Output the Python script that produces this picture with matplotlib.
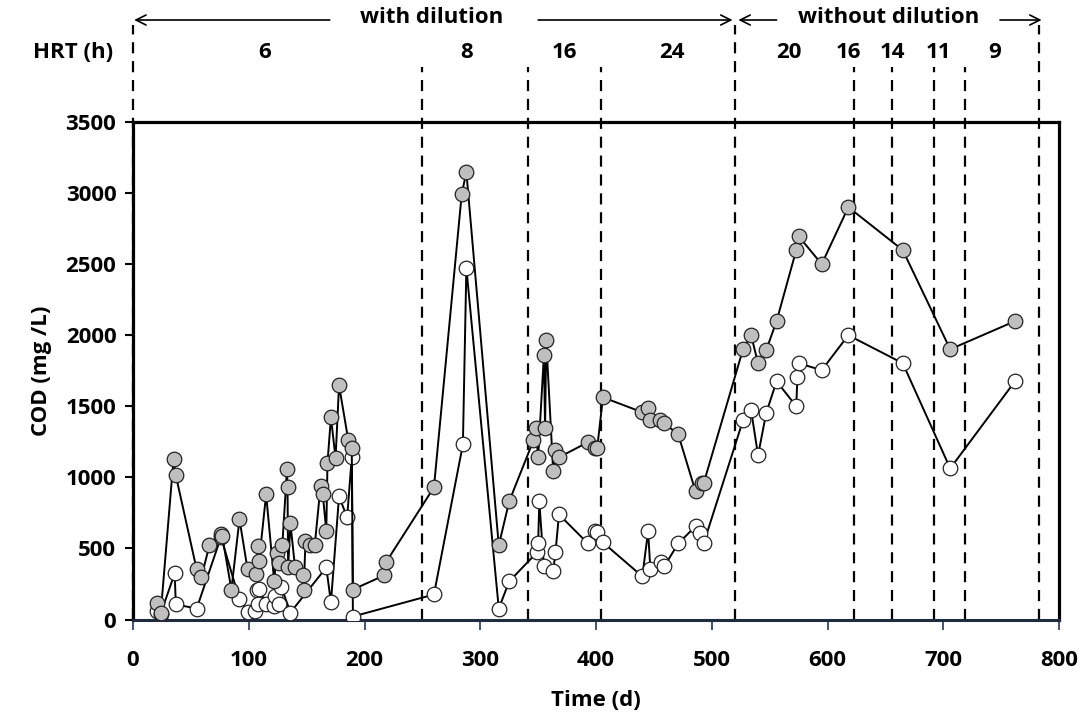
import matplotlib
matplotlib.use("Agg")
import matplotlib.pyplot as plt
import matplotlib.transforms as mtransforms

# influent (grey) and effluent (white) COD
gray_day = [21, 24, 35, 37, 55, 59, 66, 76, 77, 85, 92, 99, 106, 108, 109,
            115, 122, 124, 126, 129, 133, 133.5, 134, 136, 140, 147, 147.5,
            149, 153, 157, 162, 164, 167, 168, 171, 175, 178, 186, 189, 190,
            217, 219, 260, 284, 288, 316, 325, 346, 348, 350, 355, 356, 357,
            363, 365, 368, 393, 399, 401, 406, 440, 445, 447, 455, 459, 471,
            486, 492, 493, 527, 534, 540, 547, 556, 573, 575, 595, 618, 665,
            706, 762]
gray_cod = [113, 49, 1127, 1014, 352, 296, 521, 599, 590, 211, 704, 352, 317,
            514, 415, 880, 268, 465, 394, 521, 1056, 930, 366, 676, 366, 310,
            211, 549, 521, 521, 937, 880, 620, 1099, 1423, 1134, 1648, 1261,
            1204, 211, 310, 408, 930, 2993, 3148, 521, 831, 1261, 1345, 1141,
            1859, 1345, 1965, 1042, 1190, 1141, 1247, 1204, 1204, 1563, 1458,
            1486, 1401, 1401, 1380, 1303, 901, 958, 958, 1901, 2000, 1803,
            1894, 2099, 2599, 2697, 2500, 2901, 2599, 1901, 2099]

white_day = [21, 24, 36, 37, 55, 76, 92, 99, 105, 107, 108, 109, 115, 122,
             123, 126, 128, 136, 167, 171, 178, 185, 189, 190, 260, 285, 288,
             316, 325, 349, 350, 351, 355, 363, 365, 368, 393, 399, 401, 406,
             440, 445, 447, 456, 459, 471, 486, 490, 493, 527, 534, 540, 547,
             556, 573, 574, 575, 595, 618, 665, 706, 762]
white_cod = [60, 42, 324, 106, 77, 580, 141, 56, 63, 211, 106, 218, 106, 92,
             162, 106, 232, 49, 366, 120, 866, 718, 1141, 21, 176, 1232, 2472,
             77, 268, 472, 535, 831, 373, 338, 472, 739, 535, 620, 613, 542,
             303, 620, 352, 408, 373, 535, 655, 606, 535, 1401, 1472, 1155,
             1451, 1676, 1500, 1704, 1803, 1754, 2000, 1803, 1063, 1676]

# HRT period boundaries (d)
short_lines = [250, 341, 404, 623, 656, 692, 719]
long_lines = [0, 520, 783]
hrt_labels = ["6", "8", "16", "24", "20", "16", "14", "11", "9"]
hrt_pos = [114, 288, 373, 466, 567, 618, 656, 696, 744]


def main():
    plt.rcParams['font.family'] = ['Open Sans', 'DejaVu Sans']
    plt.rcParams['font.weight'] = 'bold'
    fs = 16
    fig = plt.figure(figsize=(10.87, 7.23), dpi=100)
    ax = fig.add_axes([133 / 1087, 1 - 619.5 / 723, 926 / 1087, 497.5 / 723])

    # grey markers sit on top of the white ones
    ax.plot(white_day, white_cod, '-o', color='black', lw=1.4,
            markerfacecolor='white', markeredgecolor='#222222',
            markeredgewidth=0.9, markersize=10.5, zorder=3)
    ax.plot(gray_day, gray_cod, '-o', color='black', lw=1.4,
            markerfacecolor='#BFBFBF', markeredgecolor='#222222',
            markeredgewidth=0.9, markersize=10.5, zorder=4)

    for x in short_lines:
        ax.axvline(x, ymin=0, ymax=1.11, color='black', ls=(0, (5, 3.5)),
                   lw=1.6, clip_on=False, zorder=2)
    for x in long_lines:
        ax.axvline(x, ymin=0, ymax=1.195, color='black', ls=(0, (5, 3.5)),
                   lw=1.6, clip_on=False, zorder=2)

    trans = mtransforms.blended_transform_factory(ax.transData, ax.transAxes)
    for lab, x in zip(hrt_labels, hrt_pos):
        ax.text(x, 1.14, lab, transform=trans, ha='center', va='center',
                fontsize=fs, fontweight='bold')
    ax.text(-52, 1.14, "HRT (h)", transform=trans, ha='center', va='center',
            fontsize=fs, fontweight='bold', clip_on=False)

    yarr = 1.205
    arrow = dict(arrowstyle='->', color='black', lw=1.2,
                 mutation_scale=18, shrinkA=0, shrinkB=0)
    ax.annotate('', xy=(1, yarr), xytext=(170, yarr), xycoords=trans,
                textcoords=trans, arrowprops=arrow)
    ax.annotate('', xy=(518, yarr), xytext=(350, yarr), xycoords=trans,
                textcoords=trans, arrowprops=arrow)
    ax.annotate('', xy=(523, yarr), xytext=(556, yarr), xycoords=trans,
                textcoords=trans, arrowprops=arrow)
    ax.annotate('', xy=(785, yarr), xytext=(749, yarr), xycoords=trans,
                textcoords=trans, arrowprops=arrow)
    ax.text(258, yarr + 0.005, "with dilution", transform=trans,
            ha='center', va='center', fontsize=fs, fontweight='bold')
    ax.text(653, yarr + 0.005, "without dilution", transform=trans,
            ha='center', va='center', fontsize=fs, fontweight='bold')

    ax.set_xlim(0, 800)
    ax.set_ylim(0, 3500)
    ax.set_xticks(range(0, 801, 100))
    ax.set_yticks(range(0, 3501, 500))
    ax.tick_params(axis='x', direction='out', length=7, width=1.2,
                   color='#1F3864', labelsize=fs, pad=15)
    ax.tick_params(axis='y', direction='out', length=6, width=1.5,
                   color='black', labelsize=fs, pad=6)
    for t in ax.get_xticklabels() + ax.get_yticklabels():
        t.set_fontweight('bold')

    for side in ['left', 'top', 'right']:
        ax.spines[side].set_linewidth(2.3)
        ax.spines[side].set_color('black')
    ax.spines['bottom'].set_linewidth(2.2)
    ax.spines['bottom'].set_color('#1F2A44')

    ax.set_xlabel("Time (d)", fontsize=fs, fontweight='bold', labelpad=14)
    ax.set_ylabel("COD (mg /L)", fontsize=fs, fontweight='bold', labelpad=10)

    fig.savefig("out.png", dpi=100)


if __name__ == "__main__":
    main()
